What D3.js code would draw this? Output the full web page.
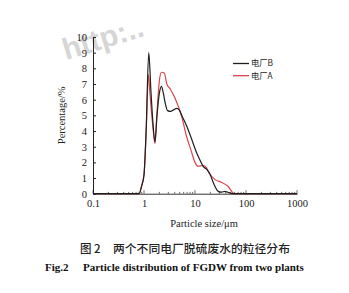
<!DOCTYPE html>
<html>
<head>
<meta charset="utf-8">
<script src="https://cdn.jsdelivr.net/npm/d3@7"></script>
<style>
  body { margin: 0; background: #fff; }
  text { font-family: 'Liberation Serif', 'DejaVu Serif', serif; }
</style>
</head>
<body>
<div id="chart"></div>
<script>
// particle size (um) and percentage
const sizeB = [0.1, 0.8, 0.9, 1.0, 1.1, 1.24, 1.37, 1.5, 1.64, 1.8, 2.0, 2.2, 2.4, 2.6, 2.9, 3.3, 3.8, 4.4, 4.9, 5.6, 6.9, 8.0, 10.8, 12.5, 14.5, 17, 20, 22.9, 28.6, 33, 38.7, 45, 55, 1000];
const pctB = [0, 0, 0.5, 1.2, 4.0, 9.0, 6.5, 4.5, 3.3, 5.0, 6.4, 6.85, 6.4, 5.8, 5.3, 5.25, 5.35, 5.45, 5.35, 4.95, 4.3, 3.76, 2.6, 2.15, 1.74, 1.55, 1.2, 0.7, 0.15, 0.1, 0.15, 0.08, 0, 0];

const sizeA = [0.1, 0.8, 0.9, 1.0, 1.1, 1.22, 1.3, 1.5, 1.64, 1.8, 2.0, 2.2, 2.5, 2.8, 3.24, 4.05, 5.5, 6.9, 8.3, 10, 11.5, 14.5, 16.5, 18.2, 24.7, 33.4, 45, 55.6, 63, 1000];
const pctA = [0, 0, 0.5, 1.2, 3.8, 7.6, 6.5, 4.2, 3.2, 5.2, 7.2, 7.75, 7.7, 7.0, 6.7, 6.1, 4.9, 3.6, 2.8, 2.0, 1.75, 1.8, 1.7, 1.42, 0.9, 0.72, 0.46, 0.05, 0, 0];

const series = [
    { name: '电厂B', color: '#1e1e1e', size: sizeB, pct: pctB },
    { name: '电厂A', color: '#d9464c', size: sizeA, pct: pctA }
];

const xTicks = [0.1, 1, 10, 100, 1000];
const yTicks = [0, 1, 2, 3, 4, 5, 6, 7, 8, 9, 10];

const svgWidth = 349;
const svgHeight = 293;
const margin = { top: 37, left: 93, bottom: 99, right: 52 };

const svg = d3
    .select('#chart')
    .append('svg')
    .attr('width', svgWidth)
    .attr('height', svgHeight)
    .style('background', '#fff');

// faint watermark
svg.append('text')
    .attr('transform', 'translate(66,60) rotate(-17)')
    .style('font-family', 'Liberation Sans, Arial, sans-serif')
    .style('font-weight', 'bold')
    .style('font-size', '30px')
    .attr('fill', '#d6d6d6')
    .text('http:..');

const x = d3
    .scaleLog()
    .domain([0.1, 1000])
    .range([margin.left, svgWidth - margin.right]);

const y = d3
    .scaleLinear()
    .domain([0, 10])
    .range([svgHeight - margin.bottom - 0.3, margin.top]);

const xAxis = svg
    .append('g')
    .attr('transform', `translate(0, ${y(0)})`)
    .call(d3.axisBottom(x).tickValues(xTicks).tickFormat(d => d).tickSize(0).tickPadding(6));

xAxis.select('.domain').attr('stroke', '#333');
xAxis.selectAll('text').style('font-size', '10.5px').attr('fill', '#222');

// inward ticks on the x axis, majors and minors
const minor = [];
[0.1, 1, 10, 100].forEach(d => {
    for (let k = 2; k < 10; k++) minor.push(d * k);
});
svg.append('g')
    .selectAll('line')
    .data(xTicks.map(d => ({ v: d, len: 3.5 })).concat(minor.map(d => ({ v: d, len: 1.8 }))))
    .enter()
    .append('line')
    .attr('x1', d => x(d.v))
    .attr('x2', d => x(d.v))
    .attr('y1', y(0))
    .attr('y2', d => y(0) - d.len)
    .attr('stroke', '#444')
    .attr('stroke-width', 0.8);

const yAxis = svg
    .append('g')
    .attr('transform', `translate(${margin.left}, 0)`)
    .call(d3.axisLeft(y).tickValues(yTicks).tickSizeInner(-3).tickSizeOuter(0).tickPadding(6));

yAxis.select('.domain').attr('stroke', '#222');
yAxis.selectAll('line').attr('stroke', '#222');
yAxis.selectAll('text').style('font-size', '10.5px').attr('fill', '#222');

const line = d3
    .line()
    .x(d => x(d[0]))
    .y(d => y(d[1]))
    .curve(d3.curveMonotoneX);

svg.append('g')
    .selectAll('path')
    .data(series.slice().reverse())
    .enter()
    .append('path')
    .attr('fill', 'none')
    .attr('stroke', d => d.color)
    .attr('stroke-width', 1.2)
    .attr('d', d => line(d.size.map((s, i) => [s, d.pct[i]])));

// legend
const legend = svg
    .selectAll('g.legend')
    .data(series)
    .enter()
    .append('g')
    .attr('class', 'legend')
    .attr('transform', (d, i) => `translate(233, ${63.5 + i * 12.2})`);

legend.append('line')
    .attr('x1', 0)
    .attr('x2', 16)
    .attr('stroke', d => d.color)
    .attr('stroke-width', 1.3);

legend.append('text')
    .attr('x', 18)
    .attr('dy', '0.35em')
    .style('font-family', "'Noto Sans CJK SC', sans-serif")
    .style('font-size', '8.3px')
    .attr('fill', '#222')
    .text(d => d.name);

// axis titles
svg.append('text')
    .attr('transform', `translate(65, ${(y(0) + y(10)) / 2}) rotate(-90)`)
    .attr('text-anchor', 'middle')
    .style('font-size', '10.5px')
    .attr('fill', '#222')
    .text('Percentage/%');

svg.append('text')
    .attr('x', 204)
    .attr('y', 226.5)
    .attr('text-anchor', 'middle')
    .style('font-size', '10.5px')
    .attr('fill', '#222')
    .text('Particle size/μm');

// captions
svg.append('text')
    .attr('x', 80)
    .attr('y', 252.5)
    .style('font-family', "'Noto Sans CJK SC', sans-serif")
    .style('font-size', '11.5px')
    .style('font-weight', 500)
    .attr('fill', '#222')
    .text('图 2');

svg.append('text')
    .attr('x', 113)
    .attr('y', 252.5)
    .style('font-family', "'Noto Sans CJK SC', sans-serif")
    .style('font-size', '11.8px')
    .style('font-weight', 500)
    .attr('fill', '#222')
    .text('两个不同电厂脱硫废水的粒径分布');

svg.append('text')
    .attr('x', 45)
    .attr('y', 271)
    .style('font-weight', 'bold')
    .style('font-size', '11px')
    .attr('fill', '#111')
    .text('Fig.2');

svg.append('text')
    .attr('x', 83)
    .attr('y', 271)
    .style('font-weight', 'bold')
    .style('font-size', '11px')
    .attr('fill', '#111')
    .text('Particle distribution of FGDW from two plants');
</script>
</body>
</html>
